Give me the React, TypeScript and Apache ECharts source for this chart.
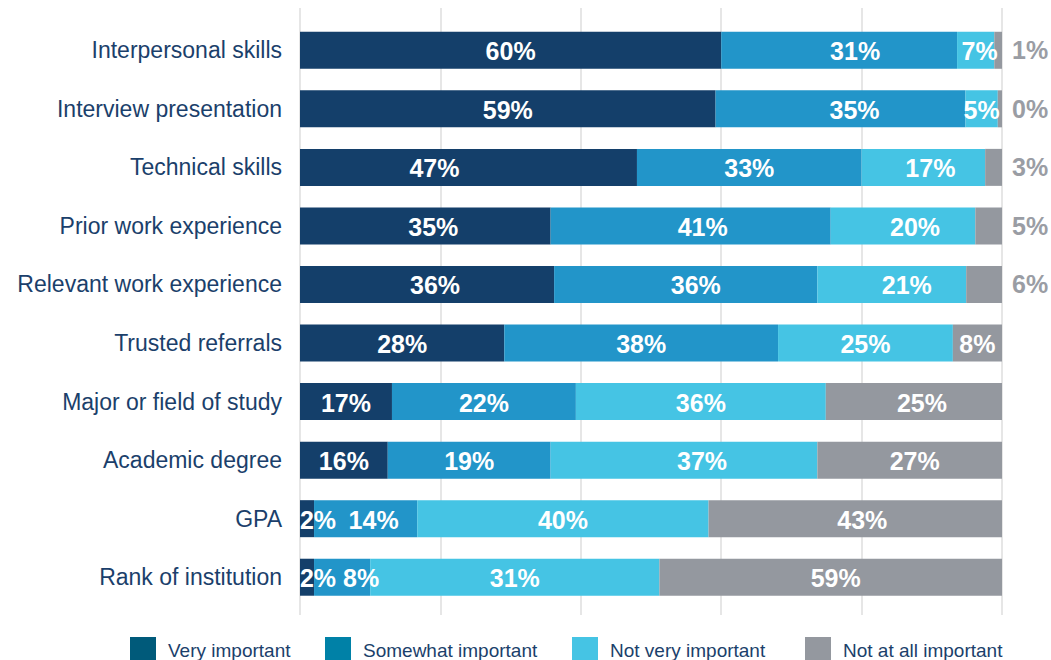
import React, { useEffect, useRef } from "react";
import * as echarts from "echarts";

const categories = [
  "Interpersonal skills",
  "Interview presentation",
  "Technical skills",
  "Prior work experience",
  "Relevant work experience",
  "Trusted referrals",
  "Major or field of study",
  "Academic degree",
  "GPA",
  "Rank of institution",
];

const seriesNames = ["Very important", "Somewhat important", "Not very important", "Not at all important"];

// bar lengths as drawn (share of 100)
const veryImportant = [60.0, 59.2, 48.0, 35.7, 36.2, 29.1, 13.1, 12.5, 2.0, 2.0];
const somewhatImportant = [33.6, 35.6, 32.0, 39.9, 37.5, 39.0, 26.2, 23.2, 14.7, 8.0];
const notVeryImportant = [5.3, 4.6, 17.6, 20.6, 21.2, 24.9, 35.6, 38.0, 41.5, 41.2];
const notAtAllImportant = [1.1, 0.6, 2.4, 3.8, 5.1, 7.0, 25.1, 26.3, 41.8, 48.8];

// printed labels
const veryLabels = [60, 59, 47, 35, 36, 28, 17, 16, 2, 2];
const somewhatLabels = [31, 35, 33, 41, 36, 38, 22, 19, 14, 8];
const notVeryLabels = [7, 5, 17, 20, 21, 25, 36, 37, 40, 31];
const notAtAllLabels = [1, 0, 3, 5, 6, 8, 25, 27, 43, 59];

const xTicks = [0, 20, 40, 60, 80, 100];

const barColors = ["#143f6a", "#2295c9", "#45c4e4", "#94989f"];
const legendColors = ["#005a7a", "#0081a7", "#45c4e4", "#94989f"];
const legendLefts = [130, 325, 572, 805];
const navy = "#1b3f6b";
const FONT = "'Liberation Sans', Arial, Helvetica, sans-serif";

// horizontal label nudges (series index -> row -> px)
const LABEL_NUDGE: Record<number, Record<number, number>> = {
  0: { 2: -34, 3: 8, 4: 8, 8: 11, 9: 11 },
  1: { 0: 16, 1: 14, 3: 12, 4: 10, 8: 8, 9: 19 },
  2: { 0: 4, 2: 7, 3: 12, 4: 15, 7: 18 },
  3: { 6: 8, 7: 5, 8: 7, 9: 5 },
};

const values = [veryImportant, somewhatImportant, notVeryImportant, notAtAllImportant];
const labels = [veryLabels, somewhatLabels, notVeryLabels, notAtAllLabels];

export default function App() {
  const ref = useRef<HTMLDivElement>(null);

  useEffect(() => {
    if (!ref.current) return;
    const chart = echarts.init(ref.current, undefined, { renderer: "svg" });

    const series = values.map((vals, si) => ({
      name: seriesNames[si],
      type: "bar",
      stack: "total",
      xAxisIndex: 0,
      yAxisIndex: 0,
      barWidth: 37,
      itemStyle: { color: barColors[si] },
      data: vals.map((v, ri) => {
        const outside = si === 3 && ri < 5;
        const nudge = (LABEL_NUDGE[si] && LABEL_NUDGE[si][ri]) || 0;
        return {
          value: v,
          label: outside
            ? {
                show: true,
                position: "right",
                distance: 10,
                color: "#9a9da4",
                formatter: `${labels[si][ri]}%`,
              }
            : {
                show: true,
                position: "inside",
                offset: [nudge, 1],
                color: "#ffffff",
                formatter: `${labels[si][ri]}%`,
              },
        };
      }),
      label: {
        fontFamily: FONT,
        fontSize: 25,
        fontWeight: "bold",
      },
      emphasis: { disabled: true },
    }));

    const legends = seriesNames.map((n, i) => ({
      data: [{ name: n, itemStyle: { color: legendColors[i] } }],
      left: legendLefts[i],
      top: 637,
      padding: 0,
      itemWidth: 26,
      itemHeight: 26,
      icon: "rect",
      selectedMode: false,
      textStyle: {
        color: navy,
        fontSize: 19,
        fontFamily: FONT,
        padding: [0, 0, 0, 7],
      },
    }));

    chart.setOption({
      animation: false,
      legend: legends,
      grid: [
        { left: 300, right: 49, top: 21, bottom: 53.5, containLabel: false },
        { left: 300, right: 49, top: 8, bottom: 45, containLabel: false },
      ],
      xAxis: [
        {
          type: "value",
          gridIndex: 0,
          min: xTicks[0],
          max: xTicks[xTicks.length - 1],
          interval: 20,
          axisLabel: { show: false },
          axisLine: { show: false },
          axisTick: { show: false },
          splitLine: { show: false },
        },
        {
          type: "value",
          gridIndex: 1,
          min: xTicks[0],
          max: xTicks[xTicks.length - 1],
          interval: 20,
          axisLabel: { show: false },
          axisLine: { show: false },
          axisTick: { show: false },
          splitLine: { show: true, lineStyle: { color: "#dedede", width: 1.5 } },
        },
      ],
      yAxis: [
        {
          type: "category",
          gridIndex: 0,
          inverse: true,
          data: categories,
          axisLine: { show: false },
          axisTick: { show: false },
          splitLine: { show: false },
          axisLabel: {
            color: navy,
            fontSize: 23,
            fontFamily: FONT,
            margin: 18,
          },
        },
        {
          type: "value",
          gridIndex: 1,
          show: false,
          min: 0,
          max: 1,
        },
      ],
      series,
    });

    return () => chart.dispose();
  }, []);

  return (
    <div
      ref={ref}
      style={{ position: "fixed", left: 0, top: 0, width: 1051, height: 660, background: "#ffffff" }}
    />
  );
}
